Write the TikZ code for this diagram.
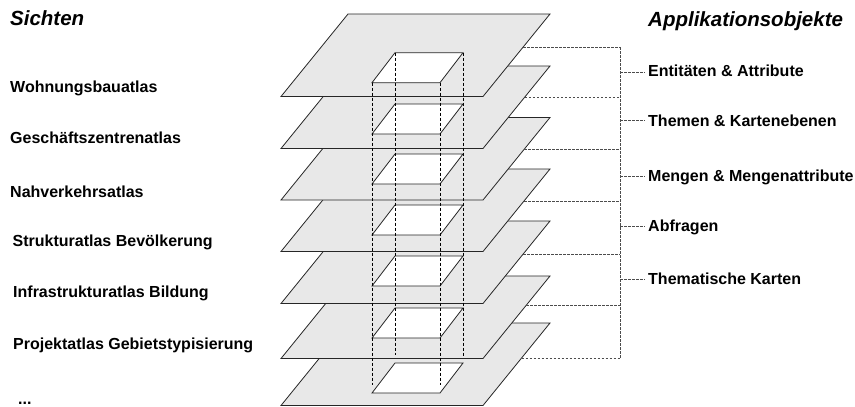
\documentclass[tikz,border=0pt]{standalone}
\usepackage{fontspec}
\setmainfont{Liberation Sans}
\usetikzlibrary{calc}
\definecolor{planegray}{HTML}{E8E8E8}
\begin{document}
\begin{tikzpicture}[x=1pt,y=-1pt,
  plane/.style={draw=black!85, line width=0.8pt, fill=planegray, line join=miter},
  hole/.style={draw=black!85, line width=0.8pt, fill=white},
  guide/.style={draw=black, line width=0.7pt, dash pattern=on 3pt off 2pt},
  link/.style={draw=black!70, line width=0.8pt, dash pattern=on 2.5pt off 1.5pt},
  lbl/.style={anchor=base west, inner sep=0pt, font=\fontsize{16}{19}\selectfont\bfseries},
  ttl/.style={anchor=base west, inner sep=0pt, font=\fontsize{20.5}{24}\selectfont\bfseries\itshape}]
\useasboundingbox (0,0) rectangle (855,407);

% planes, bottom to top
\foreach \i/\t/\h in {7/323/363, 6/276/308, 5/221/256, 4/169/205, 3/117.5/154, 2/66/104, 1/14/52.7} {
  \coordinate (p\i tl) at (348,\t);
  \coordinate (p\i tr) at (550,\t);
  \coordinate (p\i br) at (483,\t+82.5);
  \coordinate (p\i bl) at (281,\t+82.5);
  \draw[plane] (p\i tl) -- (p\i tr) -- (p\i br) -- (p\i bl) -- cycle;
  \coordinate (h\i tl) at (395,\h);
  \coordinate (h\i tr) at (463,\h);
  \coordinate (h\i br) at (440,\h+30);
  \coordinate (h\i bl) at (372,\h+30);
  \draw[hole] (h\i tl) -- (h\i tr) -- (h\i br) -- (h\i bl) -- cycle;
}

% vertical guide lines
\coordinate (gbl) at (372,385);
\coordinate (gbr) at (440,385);
\coordinate (gtl) at (395,355);
\coordinate (gtr) at (463,356);
\draw[guide] (h1bl) -- (gbl);
\draw[guide] (h1br) -- (gbr);
\draw[guide] (h1tl) -- (gtl);
\draw[guide] (h1tr) -- (gtr);

% right dashed connectors
\coordinate (brk) at (620,0);
\foreach \k/\f in {1/0.4, 2/0.376, 3/0.382, 4/0.388, 5/0.4, 6/0.3515, 7/0.424} {
  \coordinate (e\k) at ($(p\k tr)!\f!(p\k br)$);
  \draw[link] (e\k) -- (e\k -| brk);
}
\draw[link] (e1 -| brk) -- (e7 -| brk);

% right labels
\foreach \n/\yb/\ys/\txt in {1/76.7/72.7/{Entitäten \& Attribute},
                             2/126.7/120.7/{Themen \& Kartenebenen},
                             3/181.7/176.7/{Mengen \& Mengenattribute},
                             4/231.7/226.7/{Abfragen},
                             5/284/279/{Thematische Karten}} {
  \node[lbl] (r\n) at (648,\yb) {\txt};
  \coordinate (s\n) at (620,\ys);
  \draw[link] (s\n) -- (s\n -| r\n.west) [shorten >=3pt];
}

% titles
\node[ttl] (tl) at (10,25) {Sichten};
\node[ttl] (tr) at (648,26) {Applikationsobjekte};

% left labels
\node[lbl] (l1) at (10,92) {Wohnungsbauatlas};
\node[lbl] (l2) at (10,143) {Geschäftszentrenatlas};
\node[lbl] (l3) at (10,197) {Nahverkehrsatlas};
\node[lbl] (l4) at (12.5,246) {Strukturatlas Bevölkerung};
\node[lbl] (l5) at (13,297) {Infrastrukturatlas Bildung};
\node[lbl] (l6) at (13,349) {Projektatlas Gebietstypisierung};
\node[lbl] (l7) at (18,404) {...};
\end{tikzpicture}
\end{document}
